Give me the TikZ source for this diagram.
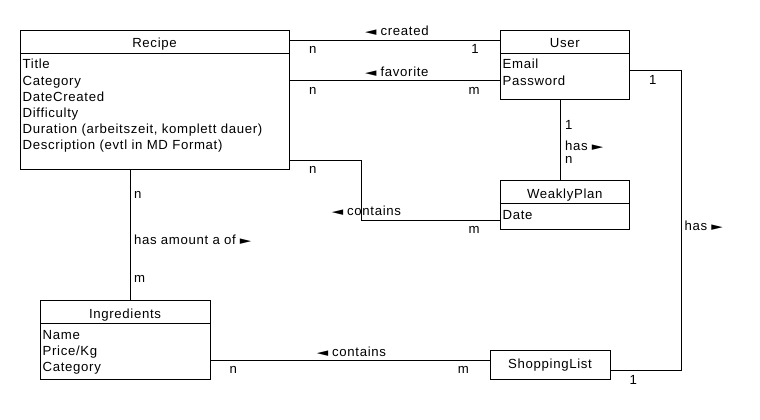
\documentclass[tikz,border=0pt]{standalone}
\usepackage{fontspec}
\usepackage{graphicx}
\setmainfont{Liberation Sans}[LetterSpace=5]
\newfontfamily\symfont{DejaVu Sans}
\newcommand\ptrL{{\symfont\fontsize{11}{11}\selectfont\scalebox{1.35}[1]{◄}}}
\newcommand\ptrR{{\symfont\fontsize{11}{11}\selectfont\scalebox{1.35}[1]{►}}}
\tikzset{
  box/.style={draw, inner sep=0pt, anchor=north west, line width=1pt},
  txt/.style={inner sep=0pt, anchor=base west, font=\fontsize{13.2}{16}\selectfont},
  ttl/.style={inner sep=0pt, anchor=base, font=\fontsize{13.2}{16}\selectfont},
  conn/.style={line width=1pt},
}
\begin{document}
\begin{tikzpicture}[x=1pt, y=-1pt]
\fill[white] (0,0) rectangle (760,420);
\useasboundingbox (0,0) rectangle (760,420);

% ---- boxes ----
\node[box, minimum width=268.4pt, minimum height=138.7pt] (recipe) at (20.3,30.3) {};
\node[box, minimum width=129pt, minimum height=69pt] (user) at (500.3,30.3) {};
\node[box, minimum width=129pt, minimum height=49pt] (weekly) at (500.3,180.3) {};
\node[box, minimum width=169.4pt, minimum height=79pt] (ingr) at (40.3,300.3) {};
\node[box, minimum width=119.4pt, minimum height=29pt] (shop) at (490.3,350.3) {};

% dividers
\draw[conn] ([yshift=-23pt]recipe.north west) -- ([yshift=-23pt]recipe.north east);
\draw[conn] ([yshift=-23pt]user.north west) -- ([yshift=-23pt]user.north east);
\draw[conn] ([yshift=-23pt]weekly.north west) -- ([yshift=-23pt]weekly.north east);
\draw[conn] ([yshift=-23pt]ingr.north west) -- ([yshift=-23pt]ingr.north east);

% titles
\node[ttl] (trecipe) at (154.5,48) {Recipe};
\node[ttl] (tuser) at (564.8,48) {User};
\node[ttl] (tweekly) at (564.8,198) {WeaklyPlan};
\node[ttl] (tingr) at (125,318) {Ingredients};
\node[ttl] (tshop) at (550,368) {ShoppingList};

% attributes
\foreach \t [count=\i] in {Title, Category, DateCreated, Difficulty, {Duration (arbeitszeit, komplett dauer)}, {Description (evtl in MD Format)}}
  \node[txt] (ra\i) at (22.5,{69+16*(\i-1)}) {\t};
\node[txt] (ua1) at (502.5,69) {Email};
\node[txt] (ua2) at (502.5,85) {Password};
\node[txt] (wa1) at (502.5,219) {Date};
\node[txt] (ia1) at (42.5,339) {Name};
\node[txt] (ia2) at (42.5,355) {Price/Kg};
\node[txt] (ia3) at (42.5,371) {Category};

% ---- connectors ----
\draw[conn] ([yshift=-10.2pt]recipe.north east) -- ([yshift=-10.2pt]user.north west);
\draw[conn] ([yshift=-50pt]recipe.north east) -- ([yshift=-50pt]user.north west);
\draw[conn] ([yshift=-129.7pt]recipe.north east) -- ++(71.6,0) |- ([yshift=-40pt]weekly.north west);
\draw[conn] ([xshift=-24.2pt]recipe.south) -- ([xshift=5.3pt]ingr.north);
\draw[conn] ([xshift=-4.5pt]user.south) -- ([xshift=-4.5pt]weekly.north);
\draw[conn] ([yshift=-40.4pt]user.north east) -- ++(51.4,0) |- ([yshift=-5.5pt]shop.east);
\draw[conn] ([yshift=4.5pt]shop.west -| ingr.east) -- ([yshift=4.5pt]shop.west);

% ---- labels ----
\node[txt] (lcreated) at (365,36) {\ptrL\hspace{4pt}created};
\node[ttl] (lc1) at (312.7,54) {n};
\node[ttl] (lc2) at (475,54) {1};
\node[txt] (lfav) at (365,76) {\ptrL\hspace{4pt}favorite};
\node[ttl] (lf1) at (312.7,94) {n};
\node[ttl] (lf2) at (474,94) {m};
\node[txt] (lcont1) at (331.6,215.8) {\ptrL\hspace{4pt}contains};
\node[ttl] (lw1) at (312.7,173.5) {n};
\node[ttl] (lw2) at (474,233.8) {m};
\node[txt] (lamount) at (133.8,244) {has amount a of\hspace{4pt}\ptrR};
\node[txt] (li1) at (133.8,198.5) {n};
\node[txt] (li2) at (133.8,282.8) {m};
\node[txt] (luw0) at (565,129) {1};
\node[txt] (lhas1) at (565,150) {has\hspace{4pt}\ptrR};
\node[txt] (luw2) at (565,163.5) {n};
\node[ttl] (lus1) at (652.7,84.6) {1};
\node[txt] (lhas2) at (684.5,230.3) {has\hspace{4pt}\ptrR};
\node[ttl] (lus2) at (633.3,384) {1};
\node[txt] (lcont2) at (316.6,356) {\ptrL\hspace{4pt}contains};
\node[ttl] (lis1) at (233.3,373.5) {n};
\node[ttl] (lis2) at (463.3,373.5) {m};
\end{tikzpicture}
\end{document}
